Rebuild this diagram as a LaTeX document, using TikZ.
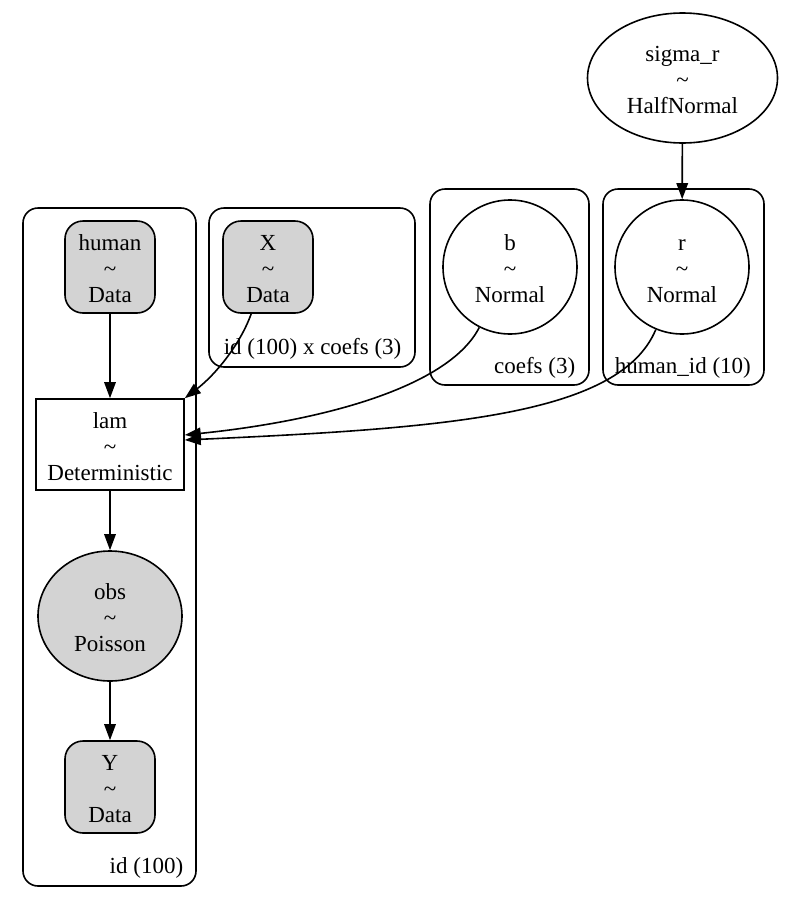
\documentclass[tikz,border=0pt]{standalone}
\usepackage{fontspec}
\setmainfont{Liberation Serif}
\usepackage{tikz}
\usetikzlibrary{shapes.geometric,arrows.meta}
\definecolor{datagray}{HTML}{D3D3D3}

% name ~ distribution, with a fixed first-line height
\newcommand{\rvtext}[2]{\rule{0pt}{20pt}#1\\\textasciitilde\\#2}

\tikzset{
  >={Triangle[length=16pt,width=11.5pt]},
  every node/.style={font=\fontsize{23}{26}\selectfont, align=center, inner sep=0pt},
  datanode/.style={draw, fill=datagray, rounded corners=18pt, minimum width=90pt, minimum height=92pt},
  freenode/.style={draw, circle, minimum size=134pt},
  detnode/.style={draw, rectangle, minimum width=148pt, minimum height=91pt},
  obsnode/.style={draw, ellipse, fill=datagray, minimum width=144pt, minimum height=130pt},
  plate/.style={rounded corners=15pt}
}

\begin{document}
\begin{tikzpicture}[x=1pt, y=-1pt, line width=1.6pt]
        \useasboundingbox (0,0) rectangle (794,900);

        % Plates
        \draw[plate] (23,208) rectangle (196,886);
        \draw[plate] (209,208) rectangle (415,367);
        \draw[plate] (430,189) rectangle (589,385);
        \draw[plate] (603,189) rectangle (764,385);

        \node[anchor=east] (idlabel) at (184,868) {id (100)};
        \node[anchor=west] (xlabel) at (223,349) {id (100) x coefs (3)};
        \node[anchor=east] (coefslabel) at (576,368) {coefs (3)};
        \node[anchor=west] (humanidlabel) at (614,368) {human\_id (10)};

        % Nodes
        \node[datanode] (human) at (110,267) {\rvtext{human}{Data}};
        \node[datanode] (X) at (268,267) {\rvtext{X}{Data}};
        \node[freenode] (b) at (510,267) {\rvtext{b}{Normal}};
        \node[freenode] (r) at (682,267) {\rvtext{r}{Normal}};
        \node[draw, ellipse, minimum width=190pt, minimum height=130pt] (sigmar) at (682.5,78) {\rvtext{sigma\_r}{HalfNormal}};
        \node[detnode] (lam) at (110,444.5) {\rvtext{lam}{Deterministic}};
        \node[obsnode] (obs) at (110,616) {\rvtext{obs}{Poisson}};
        \node[datanode] (Y) at (110,787) {\rvtext{Y}{Data}};

        % Edges
        \draw[->] (sigmar) -- (r);
        \draw[->] (human) -- (lam);
        \draw[->] (X) .. controls (240,345) and (215,375) .. (lam.north east);
        \draw[->] (b) .. controls (450,385) and (330,420) .. ([yshift=9.5pt]lam.east);
        \draw[->] (r) .. controls (620,415) and (450,428) .. ([yshift=4.5pt]lam.east);
        \draw[->] (lam) -- (obs);
        \draw[->] (obs) -- (Y);

\end{tikzpicture}
\end{document}
